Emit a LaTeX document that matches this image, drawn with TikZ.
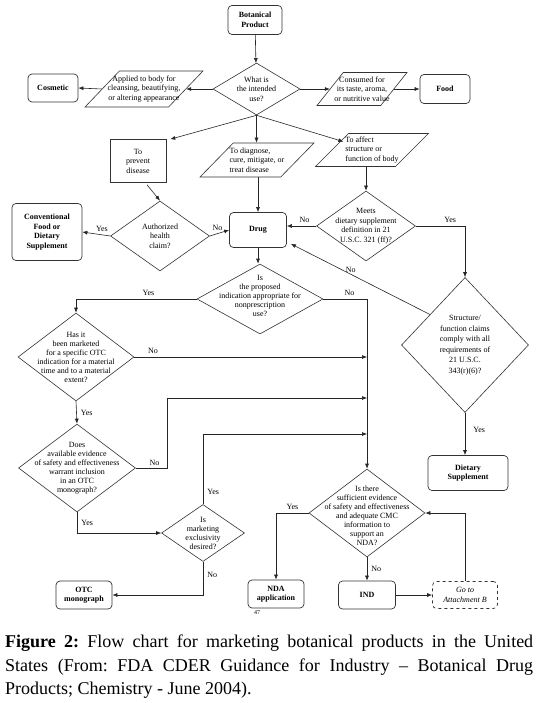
\documentclass[tikz,border=0pt]{standalone}
\usepackage{fontspec}
\setmainfont{Liberation Serif}
\usetikzlibrary{shapes.geometric,arrows.meta,calc}
\begin{document}
\begin{tikzpicture}[x=1pt,y=-1pt,
 every node/.style={inner sep=0pt},
 ln/.style={line width=0.6pt, draw=black!85},
 arr/.style={ln,-{Latex[length=5pt,width=4pt]}},
 box/.style={draw=black!80,line width=0.7pt,rounded corners=4pt,align=center,font=\fontsize{8}{9.5}\selectfont\bfseries},
 sqbox/.style={draw=black!80,line width=0.6pt,align=center,font=\fontsize{8}{9.5}\selectfont},
 dbox/.style={box,dashed,font=\fontsize{8}{9.5}\selectfont\itshape},
 dia/.style={diamond,draw=black!80,line width=0.6pt,inner sep=1pt},
 para/.style={trapezium,trapezium left angle=55,trapezium right angle=125,trapezium stretches=true,draw=black!80,line width=0.6pt,inner sep=2pt},
 txt/.style={align=center,font=\fontsize{8}{9.5}\selectfont},
 lbl/.style={font=\fontsize{8}{9}\selectfont},
]
\useasboundingbox[fill=white] (0,0) rectangle (539,703);

% top
\node[box,minimum width=54,minimum height=29] (bot) at (255,20) {Botanical\\Product};
\node[dia,minimum width=87,minimum height=52,label={[txt]center:{What is\\the intended\\use?}}] (use) at (256.5,89) {};
\node[para,minimum width=118,minimum height=36,label={[txt]center:{Applied to body for\\cleansing, beautifying,\\or altering appearance}}] (app) at (144,89) {};
\node[box,minimum width=50,minimum height=28] (cos) at (53,88) {Cosmetic};
\node[para,minimum width=90,minimum height=33,label={[txt]center:{Consumed for\\its taste, aroma,\\or nutritive value}}] (con) at (362,89) {};
\node[box,minimum width=50,minimum height=29] (food) at (445,89) {Food};

% second row
\node[sqbox,minimum width=56,minimum height=43] (prev) at (138,161) {To\\prevent\\disease};
\node[para,minimum width=114,minimum height=34,label={[txt,align=left]center:{To diagnose,\\cure, mitigate, or\\treat disease}}] (diag) at (257,160) {};
\node[para,minimum width=113,minimum height=33,label={[txt,align=left]center:{To affect\\structure or\\function of body}}] (aff) at (372,150) {};

% third row
\node[dia,minimum width=99,minimum height=70,label={[txt]center:{Authorized\\health\\claim?}}] (auth) at (160,236) {};
\node[box,minimum width=70,minimum height=57] (conv) at (47,232) {Conventional\\Food or\\Dietary\\Supplement};
\node[box,minimum width=57,minimum height=35] (drug) at (258,230) {Drug};
\node[dia,minimum width=99,minimum height=70,label={[txt]center:{Meets\\dietary supplement\\definition in 21\\U.S.C. 321 (ff)?}}] (meets) at (366,226) {};

\node[dia,minimum width=127,minimum height=135,label={[txt,font=\fontsize{8}{10.5}\selectfont]center:{Structure/\\function claims\\comply with all\\requirements of\\21 U.S.C.\\343(r)(6)?}}] (sf) at (465,345) {};
\node[box,minimum width=80,minimum height=35] (ds) at (468,473) {Dietary\\Supplement};

\node[dia,minimum width=126,minimum height=70,label={[txt,font=\fontsize{8}{9}\selectfont,yshift=3pt]center:{Is\\the proposed\\indication appropriate for\\nonprescription\\use?}}] (prop) at (260,299) {};

\node[dia,minimum width=116,minimum height=88,label={[txt,font=\fontsize{8}{9}\selectfont]center:{Has it\\been marketed\\for a specific OTC\\indication for a material\\time and to a material\\extent?}}] (has) at (76,357) {};
\node[dia,minimum width=117,minimum height=88,label={[txt,font=\fontsize{8}{9}\selectfont]center:{Does\\available evidence\\of safety and effectiveness\\warrant inclusion\\in an OTC\\monograph?}}] (does) at (77,468) {};
\node[dia,minimum width=83,minimum height=57,label={[txt,font=\fontsize{8}{9}\selectfont]center:{Is\\marketing\\exclusivity\\desired?}}] (mkt) at (203,533) {};
\node[box,minimum width=56,minimum height=28] (otc) at (84,595) {OTC\\monograph};

\node[dia,minimum width=116,minimum height=88,label={[txt,font=\fontsize{8}{9}\selectfont,yshift=-3pt]center:{Is there\\sufficient evidence\\of safety and effectiveness\\and adequate CMC\\information to\\support an\\NDA?}}] (suff) at (367,513) {};
\node[box,minimum width=56,minimum height=28] (nda) at (276,594) {NDA\\application};
\node[font=\fontsize{6}{6}\selectfont] (pg) at (257,613) {47};
\node[box,minimum width=57,minimum height=28] (ind) at (367,595) {IND};
\node[dbox,minimum width=65,minimum height=27] (goto) at (465,595) {Go to\\Attachment B};

% connectors
\draw[arr] (bot) -- (use);
\draw[arr] (use.west) -- (app.east);
\draw[arr] (app.west) -- (cos.east);
\draw[arr] (use.east) -- (con.west);
\draw[arr] (con.east) -- (food.west);
\draw[arr] (use.south) -- ($(prev.north east)+(4,0)$);
\draw[arr] (use.south) -- (use.south |- diag.north);
\draw[arr] (use.south) -- ($(aff.west)!0.5!(aff.north west)$);
\draw[arr] ($(prev.south)+(9,2)$) -- (auth.north);
\draw[arr] (drug.north |- diag.south) -- (drug.north);
\draw[arr] (meets.north |- aff.south) -- (meets.north);
\draw[arr] (auth.west) -- node[lbl,above=3pt,pos=0.3]{Yes} (conv.east);
\draw[arr] (auth.east) -- node[lbl,above=3pt,pos=0.4]{No} (drug.west);
\draw[arr] (meets.west) -- node[lbl,above=3pt,pos=0.4]{No} (drug.east |- meets.west);
\draw[arr] (meets.east) -| node[lbl,above=3pt,pos=0.35]{Yes} (sf.north);
\draw[arr] ($(sf.west)!0.45!(sf.north)$) -- node[lbl,above=1pt,pos=0.57]{No} ($(drug.south east)+(4,-4)$);
\draw[arr] (sf.south) -- node[lbl,right=8pt,pos=0.4]{Yes} (sf.south |- ds.north);
\draw[arr] (drug.south) -- (drug.south |- prop.north);

\draw[arr] (prop.west) -| node[lbl,above=3pt,pos=0.2]{Yes} (has.north);
\draw[arr] (prop.east) -| node[lbl,above=3pt,pos=0.3]{No} (suff.north);
\draw[arr] (has.east) -- node[lbl,above=3pt,pos=0.08]{No} (has.east -| suff.north);
\draw[arr] (has.south) -- node[lbl,right=4pt]{Yes} (does.north);
\coordinate (dn) at (167,398);
\draw[arr] (does.east) -| node[lbl,above=2pt,pos=0.3]{No} (dn) -- (dn -| suff.north);
\draw[arr] (does.south) |- node[lbl,right=4pt,pos=0.25]{Yes} (mkt.west);
\coordinate (mu) at (203,434);
\draw[arr] (mkt.north) -- node[lbl,right=4pt,pos=0.17]{Yes} (mu) -- (mu -| suff.north);
\draw[arr] (mkt.south) |- node[lbl,right=4pt,pos=0.19]{No} (otc.east);
\draw[arr] (suff.west) -| node[lbl,above=3pt,pos=0.25]{Yes} (nda.north);
\draw[arr] (suff.south) -- node[lbl,right=4pt]{No} (suff.south |- ind.north);
\draw[arr] (ind.east) -- (goto.west);
\draw[arr] (goto.north) |- (suff.east);

% caption
\node[anchor=north west,text width=528pt,align=justify,font=\fontsize{18}{23.5}\selectfont\frenchspacing] (cap) at (5,635) {\textbf{Figure 2:} Flow chart for marketing botanical products in the United\linebreak States (From: FDA CDER Guidance for Industry -- Botanical Drug\linebreak Products; Chemistry - June 2004).};
\end{tikzpicture}
\end{document}
